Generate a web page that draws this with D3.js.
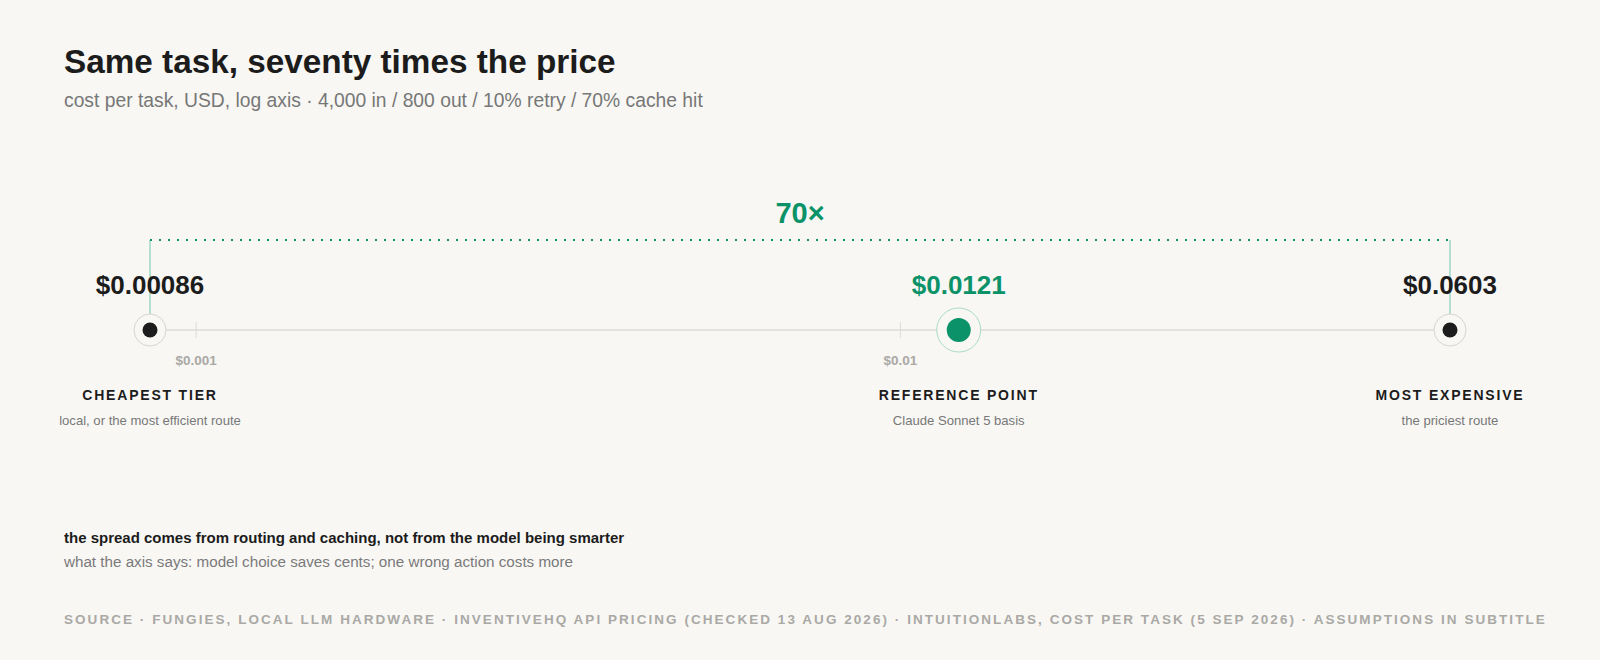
<!DOCTYPE html>
<html>
<head>
<meta charset="utf-8">
<script src="https://cdn.jsdelivr.net/npm/d3@7"></script>
<style>
  html, body { margin: 0; padding: 0; background: #f8f7f4; }
  #grafico { width: 1600px; height: 660px; }
  text { font-family: "Liberation Sans", Arial, Helvetica, sans-serif; }
</style>
</head>
<body>
<div id="grafico"></div>
<script>
/////////// DATOS /////////
var tiers = ["CHEAPEST TIER", "REFERENCE POINT", "MOST EXPENSIVE"];
var notes = ["local, or the most efficient route", "Claude Sonnet 5 basis", "the priciest route"];
var costs = [0.00086, 0.0121, 0.0603];
var costLabels = ["$0.00086", "$0.0121", "$0.0603"];
var highlight = [false, true, false];
var tickValues = [0.001, 0.01];
var tickLabels = ["$0.001", "$0.01"];
var spreadLabel = "70×";

var green = "#0b9268";
var ink = "#1c1c1c";

/////////// SVG /////////
var W = 1600, H = 660;
var svg = d3.select("#grafico").append("svg")
  .attr("width", W)
  .attr("height", H);

svg.append("rect").attr("width", W).attr("height", H).attr("fill", "#f8f7f4");

/////////// TÍTULO /////////
svg.append("text")
  .attr("x", 64).attr("y", 73)
  .attr("font-size", "33.3px").attr("font-weight", "bold")
  .attr("fill", ink)
  .text("Same task, seventy times the price");

svg.append("text")
  .attr("x", 64).attr("y", 107)
  .attr("font-size", "19.3px")
  .attr("fill", "#777")
  .text("cost per task, USD, log axis · 4,000 in / 800 out / 10% retry / 70% cache hit");

/////////// ESCALA /////////
var axisY = 330;
var x = d3.scaleLog()
  .domain(d3.extent(costs))
  .range([150, 1450]);

// línea del eje
svg.append("line")
  .attr("x1", x(d3.min(costs))).attr("x2", x(d3.max(costs)))
  .attr("y1", axisY).attr("y2", axisY)
  .attr("stroke", "#e3e2de").attr("stroke-width", 2);

// ticks
var ticks = svg.append("g").selectAll("g")
  .data(tickValues)
  .enter().append("g")
  .attr("transform", function(d) { return "translate(" + x(d) + ",0)"; });

ticks.append("line")
  .attr("y1", axisY - 8).attr("y2", axisY + 8)
  .attr("stroke", "#dcdbd7").attr("stroke-width", 1);

ticks.append("text")
  .attr("y", axisY + 35)
  .attr("text-anchor", "middle")
  .attr("font-size", "13.5px").attr("font-weight", "bold")
  .attr("fill", "#aaa9a5")
  .text(function(d, i) { return tickLabels[i]; });

/////////// RANGO 70x /////////
var bracketY = 240;
var lo = x(d3.min(costs)), hi = x(d3.max(costs));

svg.append("line")
  .attr("x1", lo).attr("x2", lo).attr("y1", bracketY).attr("y2", axisY)
  .attr("stroke", "#b4dfd1").attr("stroke-width", 2);
svg.append("line")
  .attr("x1", hi).attr("x2", hi).attr("y1", bracketY).attr("y2", axisY)
  .attr("stroke", "#b4dfd1").attr("stroke-width", 2);

svg.append("line")
  .attr("x1", lo).attr("x2", hi).attr("y1", bracketY).attr("y2", bracketY)
  .attr("stroke", green).attr("stroke-width", 2)
  .attr("stroke-dasharray", "2,7");

svg.append("text")
  .attr("x", (lo + hi) / 2).attr("y", 223)
  .attr("text-anchor", "middle")
  .attr("font-size", "29px").attr("font-weight", "bold")
  .attr("fill", green)
  .text(spreadLabel);

/////////// PUNTOS /////////
var pts = svg.append("g").selectAll("g")
  .data(costs)
  .enter().append("g")
  .attr("transform", function(d) { return "translate(" + x(d) + "," + axisY + ")"; });

pts.append("circle")
  .attr("r", function(d, i) { return highlight[i] ? 22 : 16; })
  .attr("fill", "#f8f7f4")
  .attr("stroke", function(d, i) { return highlight[i] ? "#a9dbc8" : "#d6d5d1"; })
  .attr("stroke-width", 1);

pts.append("circle")
  .attr("r", function(d, i) { return highlight[i] ? 12 : 7.5; })
  .attr("fill", function(d, i) { return highlight[i] ? green : ink; });

pts.append("text")
  .attr("y", -36)
  .attr("text-anchor", "middle")
  .attr("font-size", "26px").attr("font-weight", "bold")
  .attr("fill", function(d, i) { return highlight[i] ? green : ink; })
  .text(function(d, i) { return costLabels[i]; });

pts.append("text")
  .attr("y", 70)
  .attr("text-anchor", "middle")
  .attr("font-size", "14px").attr("font-weight", "bold")
  .attr("letter-spacing", "1.8px")
  .attr("fill", ink)
  .text(function(d, i) { return tiers[i]; });

pts.append("text")
  .attr("y", 95)
  .attr("text-anchor", "middle")
  .attr("font-size", "13.1px")
  .attr("fill", "#777")
  .text(function(d, i) { return notes[i]; });

/////////// NOTA /////////
svg.append("text")
  .attr("x", 64).attr("y", 543)
  .attr("font-size", "15px").attr("font-weight", "bold")
  .attr("fill", ink)
  .text("the spread comes from routing and caching, not from the model being smarter");

svg.append("text")
  .attr("x", 64).attr("y", 567)
  .attr("font-size", "15.2px")
  .attr("fill", "#7a7a7a")
  .text("what the axis says: model choice saves cents; one wrong action costs more");

/////////// FUENTE /////////
svg.append("text")
  .attr("x", 64).attr("y", 624)
  .attr("font-size", "13.5px").attr("font-weight", "bold")
  .attr("letter-spacing", "2.05px")
  .attr("fill", "#aaa9a5")
  .text("SOURCE · FUNGIES, LOCAL LLM HARDWARE · INVENTIVEHQ API PRICING (CHECKED 13 AUG 2026) · INTUITIONLABS, COST PER TASK (5 SEP 2026) · ASSUMPTIONS IN SUBTITLE");
</script>
</body>
</html>
